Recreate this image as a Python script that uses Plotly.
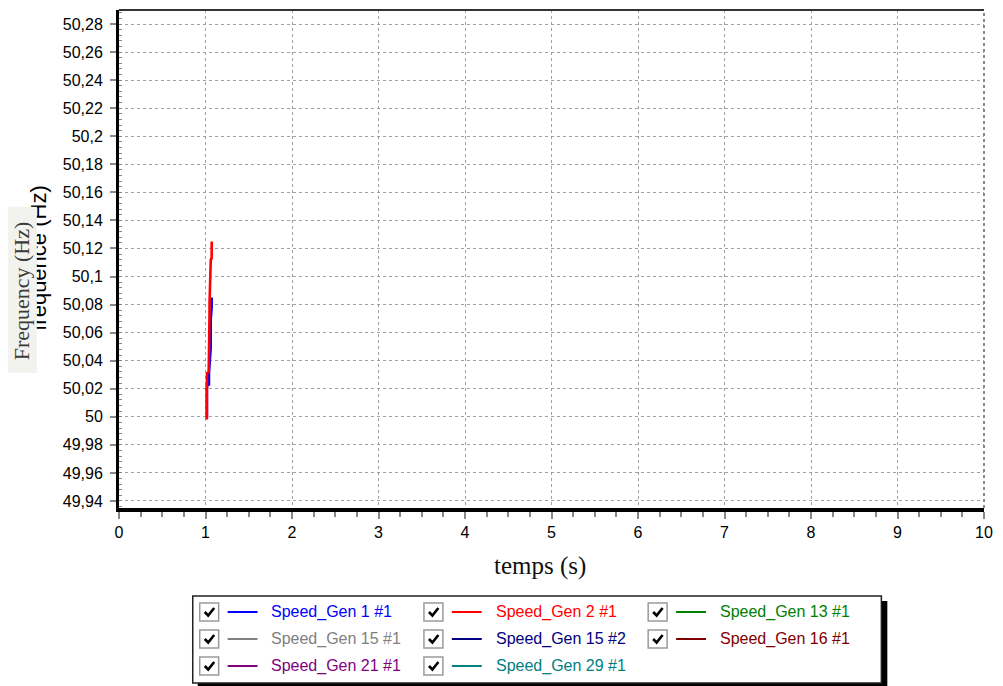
import plotly.graph_objects as go

# ---- series (time in s, speed/frequency in Hz) ----
series_names = ["Speed_Gen 1 #1", "Speed_Gen 2 #1", "Speed_Gen 13 #1",
                "Speed_Gen 15 #1", "Speed_Gen 15 #2", "Speed_Gen 16 #1",
                "Speed_Gen 21 #1", "Speed_Gen 29 #1"]
series_colors = ["#0000ff", "#ff0000", "#008000",
                 "#808080", "#000080", "#800000",
                 "#800080", "#008080"]

gen1_t = [1.016, 1.016, 1.040, 1.040, 1.060, 1.060, 1.071, 1.071]
gen1_f = [49.999, 50.022, 50.023, 50.031, 50.049, 50.069, 50.078, 50.085]

gen2_t = [1.016, 1.017, 1.037, 1.038, 1.046, 1.047, 1.056, 1.060, 1.061, 1.071, 1.072]
gen2_f = [49.998, 50.031, 50.032, 50.070, 50.071, 50.082, 50.096, 50.105, 50.112, 50.113, 50.125]

empty_t = []
empty_f = []

series_t = [gen1_t, gen2_t, empty_t, empty_t, empty_t, empty_t, empty_t, empty_t]
series_f = [gen1_f, gen2_f, empty_f, empty_f, empty_f, empty_f, empty_f, empty_f]

# ---- axis ticks ----
x_tickvals = [0, 1, 2, 3, 4, 5, 6, 7, 8, 9, 10]
x_ticktext = ["0", "1", "2", "3", "4", "5", "6", "7", "8", "9", "10"]
y_tickvals = [49.94, 49.96, 49.98, 50.00, 50.02, 50.04, 50.06, 50.08, 50.10,
              50.12, 50.14, 50.16, 50.18, 50.20, 50.22, 50.24, 50.26, 50.28]
y_ticktext = ["49,94", "49,96", "49,98", "50", "50,02", "50,04", "50,06", "50,08", "50,1",
              "50,12", "50,14", "50,16", "50,18", "50,2", "50,22", "50,24", "50,26", "50,28"]

W, H = 1003, 686
ML, MR, MT, MB = 119, 16, 10, 178
PW, PH = W - ML - MR, H - MT - MB


def px(x):
    return (x - ML) / PW


def py(y):
    return (H - MB - y) / PH


SANS = "Liberation Sans, Arial, sans-serif"
SERIF = "Liberation Serif, Times New Roman, serif"

fig = go.Figure()
for name, color, t, f in zip(series_names, series_colors, series_t, series_f):
    fig.add_trace(go.Scatter(x=t, y=f, mode="lines", name=name,
                             line=dict(color=color, width=2.6),
                             showlegend=False))

shapes = []
annotations = []

# plot frame: top and right borders
shapes.append(dict(type="line", xref="paper", yref="paper", x0=0, x1=1, y0=1, y1=1,
                   line=dict(color="#333333", width=2), layer="above"))
shapes.append(dict(type="line", xref="paper", yref="paper", x0=1, x1=1, y0=0, y1=1,
                   line=dict(color="#888888", width=2, dash="dot"), layer="above"))

# axis titles
annotations.append(dict(text="temps (s)", xref="paper", yref="paper",
                        x=px(541), y=py(566), xanchor="center", yanchor="middle",
                        showarrow=False, font=dict(family=SERIF, size=25, color="#111111")))
annotations.append(dict(text="fréquence (Hz)", xref="paper", yref="paper",
                        x=px(37.5), y=py(258), xanchor="center", yanchor="middle",
                        textangle=-90, showarrow=False,
                        font=dict(family=SANS, size=22, color="#000000")))
# pasted label panel over the original title
annotations.append(dict(text=" ", xref="paper", yref="paper",
                        x=px(21.5), y=py(289.5), xanchor="center", yanchor="middle",
                        textangle=-90, showarrow=False, width=165, height=28,
                        borderpad=0, bgcolor="#f2f2ee",
                        font=dict(family=SERIF, size=22, color="#3a3a3a")))
annotations.append(dict(text="Frequency (Hz)", xref="paper", yref="paper",
                        x=px(21), y=py(291), xanchor="center", yanchor="middle",
                        textangle=-90, showarrow=False,
                        font=dict(family=SERIF, size=22, color="#3a3a3a")))

# legend panel with check boxes
shapes.append(dict(type="rect", xref="paper", yref="paper",
                   x0=px(198), x1=px(890), y0=py(601), y1=py(690),
                   fillcolor="#000000", line=dict(width=0), layer="above"))
shapes.append(dict(type="rect", xref="paper", yref="paper",
                   x0=px(193), x1=px(884), y0=py(596), y1=py(683),
                   fillcolor="#ffffff", line=dict(color="#222222", width=1.5), layer="above"))

row_y = [612, 639, 666]
col_x = [200, 425, 650]
for i, (name, color) in enumerate(zip(series_names, series_colors)):
    r, c = divmod(i, 3)
    cx, cy = col_x[c], row_y[r]
    shapes.append(dict(type="rect", xref="paper", yref="paper",
                       x0=px(cx), x1=px(cx + 19), y0=py(cy - 9), y1=py(cy + 9),
                       fillcolor="#ffffff", line=dict(color="#9a9a9a", width=1.5), layer="above"))
    shapes.append(dict(type="path", xref="paper", yref="paper",
                       path="M {} {} L {} {} L {} {}".format(
                           px(cx + 5), py(cy), px(cx + 8.5), py(cy + 3.5),
                           px(cx + 14.5), py(cy - 4)),
                       line=dict(color="#000000", width=2.6), layer="above"))
    shapes.append(dict(type="line", xref="paper", yref="paper",
                       x0=px(cx + 28), x1=px(cx + 58), y0=py(cy), y1=py(cy),
                       line=dict(color=color, width=2), layer="above"))
    annotations.append(dict(text=name, xref="paper", yref="paper",
                            x=px(cx + 70), y=py(cy), xanchor="left", yanchor="middle",
                            showarrow=False, font=dict(family=SANS, size=16, color=color)))

fig.update_layout(
    width=W, height=H,
    margin=dict(l=ML, r=MR, t=MT, b=MB),
    paper_bgcolor="#ffffff", plot_bgcolor="#ffffff",
    showlegend=False,
    shapes=shapes, annotations=annotations,
    font=dict(family=SANS, size=16, color="#000000"),
)

fig.update_xaxes(
    range=[0, 10], tickvals=x_tickvals, ticktext=x_ticktext,
    showline=True, linecolor="#000000", linewidth=4,
    ticks="outside", ticklen=7, tickcolor="#888888", tickwidth=1.5,
    minor=dict(dtick=0.25, ticks="outside", ticklen=5, tickcolor="#888888",
               tickwidth=1.5, showgrid=False),
    showgrid=True, gridcolor="#a0a0a0", gridwidth=1, griddash="dot",
    zeroline=False, tickfont=dict(family=SANS, size=16, color="#000000"),
)
fig.update_yaxes(
    range=[49.935, 50.29], tickvals=y_tickvals, ticktext=y_ticktext,
    showline=True, linecolor="#000000", linewidth=3,
    ticks="outside", ticklen=6, tickcolor="#888888", tickwidth=1.5,
    minor=dict(dtick=0.004, ticks="inside", ticklen=3, tickcolor="#888888",
               tickwidth=1, showgrid=False),
    showgrid=True, gridcolor="#a0a0a0", gridwidth=1, griddash="dot",
    zeroline=False, ticklabelstandoff=4,
    tickfont=dict(family=SANS, size=16, color="#000000"),
)

fig.write_html("out.html")
